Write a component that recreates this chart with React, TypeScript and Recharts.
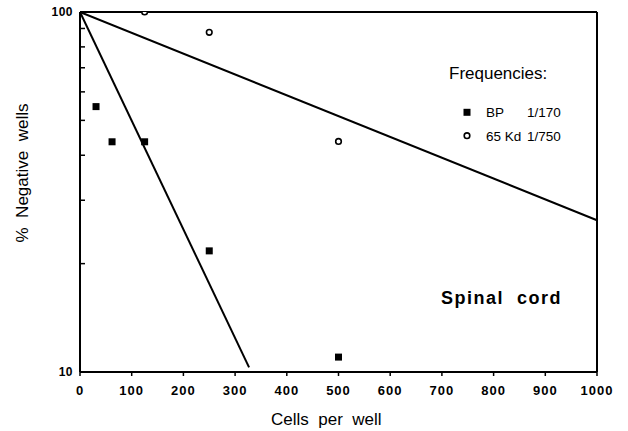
import { ScatterChart, Scatter, XAxis, YAxis, ReferenceLine } from 'recharts'

// BP (filled squares)
const bpCells = [31, 62, 125, 250, 500]
const bpNegative = [54.6, 43.6, 43.6, 21.7, 11.0]
// 65 Kd (open circles)
const kdCells = [125, 250, 500]
const kdNegative = [100, 87.8, 43.7]
// fitted lines
const bpFitCells = [0, 327]
const bpFitNegative = [100, 10.3]
const kdFitCells = [0, 1000]
const kdFitNegative = [100, 26.4]

const xTicks = [0, 100, 200, 300, 400, 500, 600, 700, 800, 900, 1000]
const yTicks = [10, 20, 30, 40, 50, 60, 70, 80, 90, 100]
const yLabels = [10, 100]

const toPoints = (xs: number[], ys: number[]) => xs.map((x, i) => ({ x, y: ys[i] }))

const bpData = toPoints(bpCells, bpNegative)
const kdData = toPoints(kdCells, kdNegative)
const bpFit = toPoints(bpFitCells, bpFitNegative)
const kdFit = toPoints(kdFitCells, kdFitNegative)

const FONT = '"Liberation Sans", Arial, Helvetica, sans-serif'

const Square = (props: any) => {
  const { cx, cy } = props
  return <rect x={cx - 3.5} y={cy - 3.5} width={7} height={7} fill="#000" />
}

const Ring = (props: any) => {
  const { cx, cy } = props
  return <circle cx={cx} cy={cy} r={2.8} fill="#fff" stroke="#000" strokeWidth={1.6} />
}

const Nothing = () => <g />

// minor ticks point inward, only 10 and 100 are labelled
const YTick = (props: any) => {
  const { x, y, payload } = props
  const v = payload.value
  return (
    <g>
      <line x1={x} y1={y} x2={x + 5} y2={y} stroke="#000" strokeWidth={1.5} />
      {yLabels.includes(v) && (
        <text x={x - 7} y={y} dy="0.36em" textAnchor="end" fontSize={12} fontWeight={700}
          fontFamily={FONT} letterSpacing={0.5} fill="#000">
          {v}
        </text>
      )}
    </g>
  )
}

const txt = (extra: any) => ({
  position: 'absolute' as const,
  fontFamily: FONT,
  lineHeight: 1,
  whiteSpace: 'pre' as const,
  color: '#000',
  ...extra,
})

export default function App() {
  return (
    <div style={{ position: 'absolute', left: 0, top: 0, width: 628, height: 431, background: '#fff' }}>
      <ScatterChart width={628} height={431} margin={{ top: 12, right: 31, bottom: 0, left: 0 }}>
        <XAxis
          type="number"
          dataKey="x"
          domain={[0, 1000]}
          ticks={xTicks}
          height={59}
          axisLine={{ stroke: '#000', strokeWidth: 2 }}
          tickLine={{ stroke: '#000', strokeWidth: 1.5 }}
          tickSize={4}
          tickMargin={10}
          tick={{ fill: '#000', fontSize: 13, fontWeight: 700, fontFamily: FONT, letterSpacing: 1 }}
        />
        <YAxis
          type="number"
          dataKey="y"
          scale="log"
          domain={[10, 100]}
          allowDataOverflow
          ticks={yTicks}
          width={80}
          axisLine={{ stroke: '#000', strokeWidth: 2 }}
          tickLine={false}
          tickSize={0}
          tickMargin={0}
          tick={YTick}
          interval={0}
        />
        <ReferenceLine y={100} stroke="#000" strokeWidth={2} />
        <ReferenceLine x={1000} stroke="#000" strokeWidth={2} />
        <Scatter data={bpFit} line={{ stroke: '#000', strokeWidth: 2 }} shape={Nothing} isAnimationActive={false} />
        <Scatter data={kdFit} line={{ stroke: '#000', strokeWidth: 2 }} shape={Nothing} isAnimationActive={false} />
        <Scatter data={bpData} shape={Square} isAnimationActive={false} />
        <Scatter data={kdData} shape={Ring} isAnimationActive={false} />
      </ScatterChart>

      <div style={txt({ left: 449, top: 65, fontSize: 17 })}>Frequencies:</div>
      <svg style={{ position: 'absolute', left: 460, top: 105 }} width={14} height={38}>
        <rect x={3.5} y={3.8} width={7} height={7} fill="#000" />
        <circle cx={7} cy={30.7} r={2.8} fill="#fff" stroke="#000" strokeWidth={1.6} />
      </svg>
      <div style={txt({ left: 486, top: 105.7, fontSize: 13.5 })}>BP</div>
      <div style={txt({ left: 527, top: 105.7, fontSize: 13.5 })}>1/170</div>
      <div style={txt({ left: 486, top: 130.4, fontSize: 13.5 })}>65 Kd</div>
      <div style={txt({ left: 527, top: 130.4, fontSize: 13.5 })}>1/750</div>

      <div style={txt({ left: 441, top: 289, fontSize: 18, fontWeight: 700, letterSpacing: 1.5 })}>Spinal  cord</div>

      <div style={txt({ left: 271, top: 411, fontSize: 17 })}>Cells  per  well</div>
      <div
        style={txt({
          left: 22,
          top: 173,
          fontSize: 17,
          transform: 'translate(-50%, -50%) rotate(-90deg)',
        })}
      >
        %  Negative  wells
      </div>
    </div>
  )
}
